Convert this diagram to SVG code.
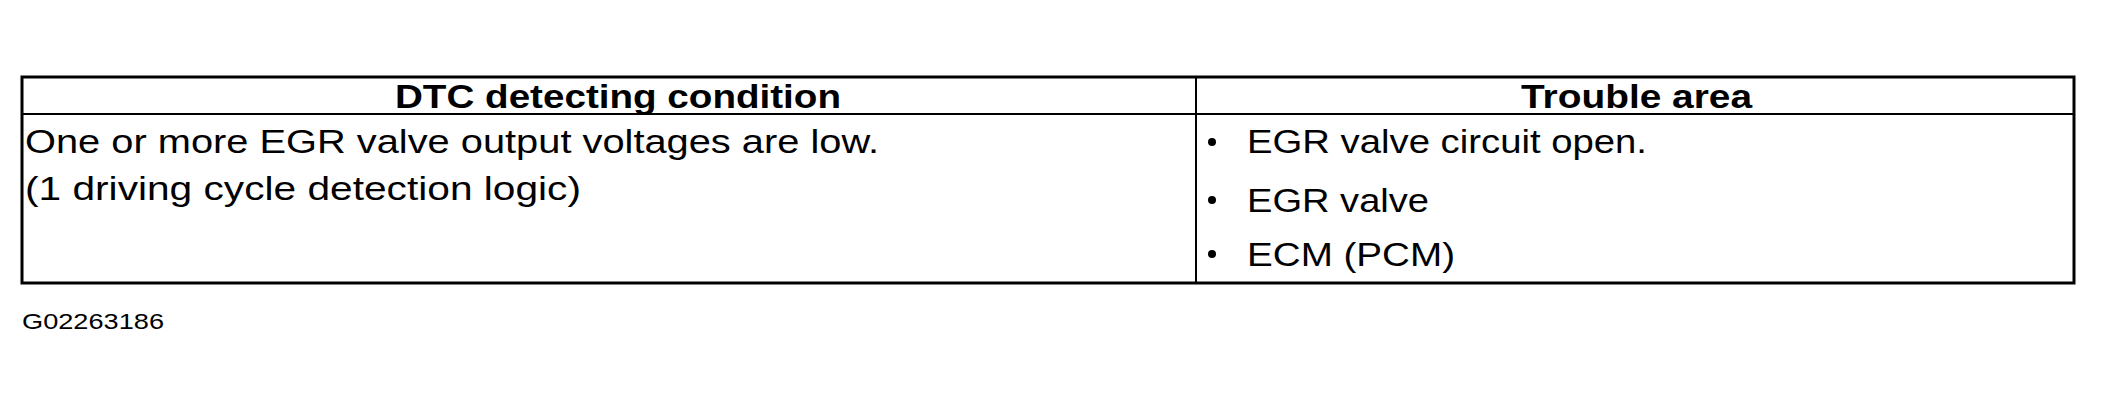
<svg xmlns="http://www.w3.org/2000/svg" width="2114" height="404" viewBox="0 0 2114 404">
<style>
text{font-family:"Liberation Sans",Arial,sans-serif;font-size:33px;fill:#000}
.h{font-weight:bold}
.ln{stroke:#000;fill:none}
</style>
<rect width="2114" height="404" fill="#fff"/>
<g id="table">
<rect class="ln" x="22" y="77" width="2052" height="206" stroke-width="3"/>
<line class="ln" x1="22" y1="114" x2="2074" y2="114" stroke-width="2"/>
<line class="ln" x1="1196" y1="77" x2="1196" y2="283" stroke-width="2"/>
</g>
<g id="header">
<text class="h" x="395" y="108" textLength="446" lengthAdjust="spacingAndGlyphs">DTC detecting condition</text>
<text class="h" x="1521" y="108" textLength="231" lengthAdjust="spacingAndGlyphs">Trouble area</text>
</g>
<g id="condition">
<text x="25" y="153" textLength="854" lengthAdjust="spacingAndGlyphs">One or more EGR valve output voltages are low.</text>
<text x="25" y="200" textLength="556" lengthAdjust="spacingAndGlyphs">(1 driving cycle detection logic)</text>
</g>
<g id="trouble">
<circle cx="1212" cy="142" r="4"/>
<circle cx="1212" cy="200" r="4"/>
<circle cx="1212" cy="254" r="4"/>
<text x="1247" y="153" textLength="400" lengthAdjust="spacingAndGlyphs">EGR valve circuit open.</text>
<text x="1247" y="212" textLength="182" lengthAdjust="spacingAndGlyphs">EGR valve</text>
<text x="1247" y="266" textLength="208" lengthAdjust="spacingAndGlyphs">ECM (PCM)</text>
</g>
<text x="22" y="329" style="font-size:22px" textLength="142" lengthAdjust="spacingAndGlyphs">G02263186</text>
</svg>
